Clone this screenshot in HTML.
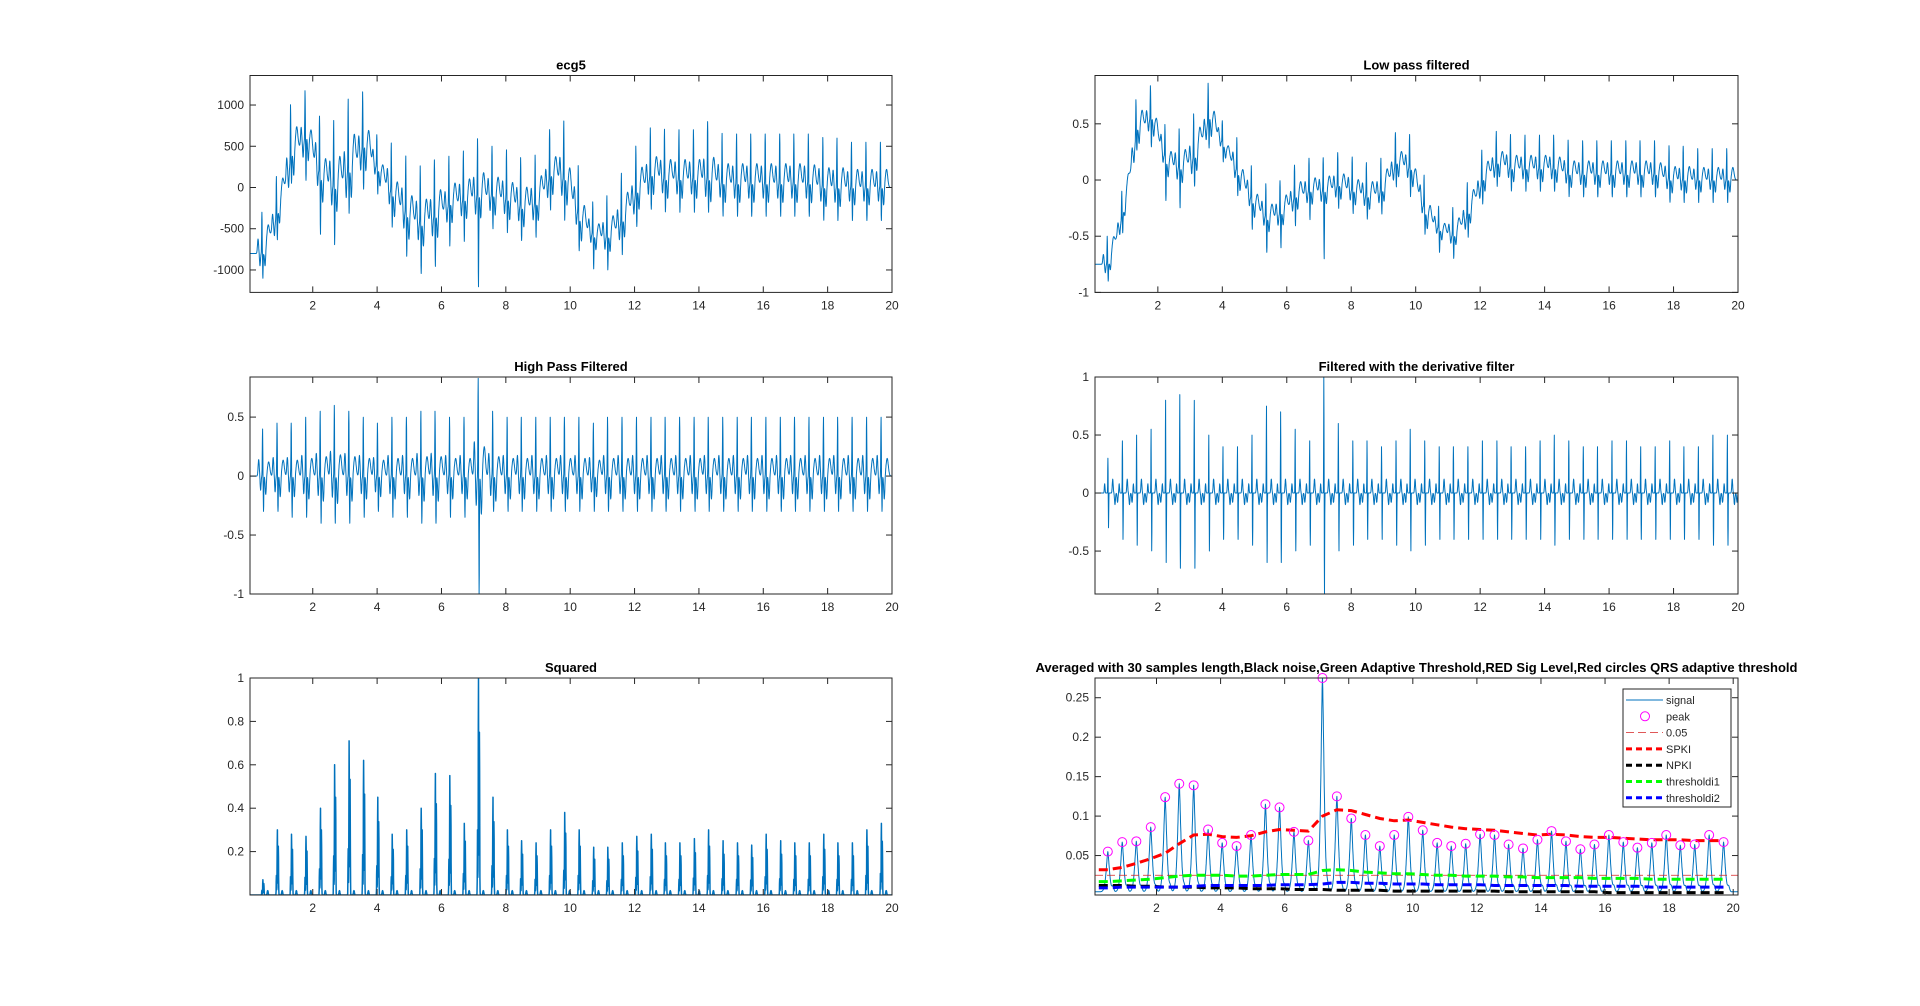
<!DOCTYPE html>
<html><head><meta charset="utf-8"><title>ECG processing</title>
<style>
html,body{margin:0;padding:0;background:#fff;}
svg{display:block;font-family:"Liberation Sans",Arial,sans-serif;}
.tick{font-size:12px;fill:#262626;}
.ttl{font-size:13px;font-weight:bold;fill:#000;}
</style></head>
<body>
<svg id="fig" width="1920" height="1006" viewBox="0 0 1920 1006"></svg>
<script>
// ---- data ----
const beatTimes=[0.48,0.93,1.37,1.82,2.27,2.71,3.16,3.61,4.05,4.50,4.95,5.40,5.84,6.29,6.74,7.18,7.63,8.08,8.52,8.97,9.42,9.86,10.31,10.76,11.20,11.65,12.10,12.55,12.99,13.44,13.89,14.33,14.78,15.23,15.67,16.12,16.57,17.01,17.46,17.91,18.35,18.80,19.25,19.70];
const ecgBase=[-800,-300,400,600,100,0,200,500,200,-100,-350,-450,-350,-200,-150,-100,-100,-150,-250,-200,150,100,-400,-600,-600,-400,-50,150,100,100,100,100,50,50,50,50,50,50,50,0,0,0,0,0];
const ecgR=[500,500,700,600,700,800,900,700,400,600,700,700,700,600,600,700,600,600,600,600,600,700,600,400,500,600,600,600,600,600,600,700,600,600,600,600,600,600,600,600,600,550,550,550];
const ecgS=[300,300,300,500,700,700,500,500,300,400,500,600,600,500,500,1100,400,400,400,400,400,500,400,400,400,400,400,400,400,400,400,400,400,400,400,400,400,400,400,400,400,400,400,400];
const lpBase=[-0.75,-0.3,0.45,0.55,0.15,0.1,0.2,0.55,0.3,0.05,-0.2,-0.35,-0.3,-0.15,-0.1,-0.1,-0.05,-0.1,-0.15,-0.1,0.15,0.1,-0.3,-0.45,-0.5,-0.3,0,0.15,0.1,0.1,0.1,0.1,0.05,0.05,0.05,0.05,0.05,0.05,0.05,0,0,0,0,0];
const lpR=[0.25,0.25,0.35,0.3,0.3,0.35,0.4,0.35,0.2,0.3,0.3,0.3,0.3,0.3,0.3,0.3,0.3,0.3,0.3,0.3,0.3,0.3,0.3,0.2,0.25,0.3,0.3,0.3,0.3,0.3,0.3,0.3,0.3,0.3,0.3,0.3,0.3,0.3,0.3,0.3,0.3,0.28,0.28,0.28];
const lpS=[0.15,0.15,0.15,0.25,0.35,0.35,0.25,0.25,0.15,0.2,0.25,0.3,0.3,0.25,0.25,0.6,0.2,0.2,0.2,0.2,0.2,0.25,0.2,0.2,0.2,0.2,0.2,0.2,0.2,0.2,0.2,0.2,0.2,0.2,0.2,0.2,0.2,0.2,0.2,0.2,0.2,0.2,0.2,0.2];
const hpR=[0.4,0.45,0.45,0.5,0.55,0.6,0.55,0.5,0.45,0.5,0.5,0.55,0.55,0.5,0.5,0.83,0.55,0.5,0.5,0.5,0.5,0.5,0.5,0.45,0.5,0.5,0.5,0.5,0.5,0.5,0.5,0.5,0.5,0.5,0.5,0.5,0.5,0.5,0.5,0.5,0.5,0.5,0.5,0.5];
const hpS=[0.3,0.3,0.35,0.35,0.4,0.4,0.4,0.35,0.3,0.35,0.35,0.4,0.4,0.35,0.35,1.0,0.3,0.3,0.3,0.3,0.3,0.3,0.3,0.3,0.3,0.3,0.3,0.3,0.3,0.3,0.3,0.3,0.3,0.3,0.3,0.3,0.3,0.3,0.3,0.3,0.3,0.3,0.3,0.3];
const dfR=[0.3,0.45,0.5,0.55,0.8,0.85,0.8,0.5,0.4,0.4,0.5,0.75,0.7,0.55,0.45,1.0,0.6,0.45,0.45,0.4,0.45,0.55,0.45,0.4,0.4,0.4,0.45,0.45,0.4,0.4,0.45,0.5,0.45,0.4,0.4,0.45,0.45,0.4,0.4,0.45,0.4,0.4,0.5,0.5];
const dfS=[0.3,0.4,0.45,0.5,0.6,0.65,0.65,0.5,0.4,0.4,0.45,0.6,0.6,0.5,0.45,0.87,0.5,0.45,0.4,0.4,0.45,0.5,0.45,0.4,0.4,0.4,0.4,0.4,0.4,0.4,0.4,0.45,0.4,0.4,0.4,0.4,0.4,0.4,0.4,0.4,0.4,0.4,0.45,0.45];
const sqPeak=[0.07,0.3,0.28,0.27,0.4,0.6,0.71,0.62,0.45,0.28,0.3,0.4,0.56,0.55,0.33,1.0,0.45,0.3,0.25,0.24,0.3,0.38,0.3,0.22,0.22,0.24,0.27,0.28,0.24,0.24,0.26,0.3,0.25,0.24,0.23,0.28,0.25,0.24,0.24,0.28,0.24,0.24,0.3,0.33];
const avgPeak=[0.055,0.067,0.068,0.086,0.124,0.141,0.139,0.083,0.066,0.062,0.076,0.115,0.111,0.080,0.069,0.275,0.125,0.097,0.076,0.062,0.076,0.099,0.082,0.066,0.062,0.065,0.077,0.076,0.064,0.059,0.070,0.081,0.068,0.058,0.064,0.076,0.067,0.060,0.066,0.076,0.063,0.064,0.076,0.067];
const spki=[0.032,0.035,0.040,0.046,0.053,0.065,0.076,0.077,0.074,0.073,0.075,0.080,0.083,0.082,0.081,0.100,0.108,0.107,0.102,0.097,0.094,0.095,0.092,0.089,0.086,0.084,0.083,0.082,0.080,0.078,0.076,0.077,0.076,0.074,0.073,0.073,0.072,0.071,0.070,0.070,0.070,0.069,0.069,0.069];
const npki=[0.012,0.012,0.011,0.011,0.010,0.010,0.010,0.009,0.009,0.009,0.008,0.008,0.008,0.007,0.007,0.007,0.006,0.006,0.006,0.006,0.005,0.005,0.005,0.005,0.005,0.005,0.005,0.005,0.004,0.004,0.004,0.004,0.004,0.004,0.004,0.003,0.003,0.003,0.003,0.003,0.003,0.003,0.003,0.003];
const thr1=[0.017,0.018,0.019,0.020,0.022,0.024,0.025,0.025,0.025,0.024,0.024,0.025,0.026,0.026,0.026,0.031,0.032,0.031,0.029,0.028,0.027,0.027,0.026,0.025,0.025,0.024,0.024,0.024,0.023,0.023,0.022,0.022,0.022,0.022,0.021,0.021,0.021,0.021,0.020,0.020,0.020,0.020,0.020,0.020];
const thr2=[0.009,0.010,0.010,0.010,0.010,0.010,0.011,0.012,0.012,0.012,0.012,0.012,0.013,0.013,0.013,0.014,0.016,0.016,0.015,0.015,0.014,0.014,0.014,0.013,0.013,0.013,0.013,0.012,0.012,0.012,0.012,0.012,0.012,0.011,0.011,0.011,0.011,0.011,0.010,0.010,0.010,0.010,0.010,0.010];
const fixedLevel=0.025;
const xTicks=[2,4,6,8,10,12,14,16,18,20];
const ecgYTicks=[-1000,-500,0,500,1000];
const lpYTicks=[-1,-0.5,0,0.5];
const hpYTicks=[-1,-0.5,0,0.5];
const dfYTicks=[-0.5,0,0.5,1];
const sqYTicks=[0.2,0.4,0.6,0.8,1];
const avYTicks=[0.05,0.1,0.15,0.2,0.25];
const legendLabels=['signal','peak','0.05','SPKI','NPKI','thresholdi1','thresholdi2'];

const NS='http://www.w3.org/2000/svg';
const fig=document.getElementById('fig');
const BLUE='#0072BD';
function mk(tag,attrs,parent){const e=document.createElementNS(NS,tag);for(const k in attrs)e.setAttribute(k,attrs[k]);(parent||fig).appendChild(e);return e;}

function makeAxes(name,x0,y0,x1,y1,xmin,xmax,ymin,ymax,yt,title){
  const g=mk('g',{});
  
  
  const sx=v=>x0+(v-xmin)/(xmax-xmin)*(x1-x0);
  const sy=v=>y1-(v-ymin)/(ymax-ymin)*(y1-y0);
  const clipId='c'+name;
  const cp=mk('clipPath',{id:clipId},g);mk('rect',{x:x0,y:y0,width:x1-x0,height:y1-y0},cp);
  const plot=mk('g',{'clip-path':'url(#'+clipId+')'},g);
  
  
  const ax={g,plot,sx,sy,x0,x1,y0,y1};
  ax.finish=function(){
    const fr=mk('rect',{x:x0,y:y0,width:x1-x0,height:y1-y0,fill:'none',stroke:'#262626','stroke-width':1},g);
    
    
    xTicks.forEach(v=>{const X=sx(v);if(X<x0-0.5||X>x1+0.5)return;
      mk('line',{x1:X,x2:X,y1:y1,y2:y1-6,stroke:'#262626'},g);
      mk('line',{x1:X,x2:X,y1:y0,y2:y0+6,stroke:'#262626'},g);
      const t=mk('text',{x:X,y:y1+17,'text-anchor':'middle',class:'tick'},g);t.textContent=v;
      
      });
    yt.forEach(v=>{const Y=sy(v);
      mk('line',{x1:x0,x2:x0+6,y1:Y,y2:Y,stroke:'#262626'},g);
      mk('line',{x1:x1,x2:x1-6,y1:Y,y2:Y,stroke:'#262626'},g);
      const t=mk('text',{x:x0-6,y:Y+4,'text-anchor':'end',class:'tick'},g);t.textContent=v;
      
      });
    const tt=mk('text',{x:(x0+x1)/2,y:y0-6,'text-anchor':'middle',class:'ttl'},g);tt.textContent=title;
    
    
  };
  return ax;
}
function gauss(d,w){return Math.exp(-(d*d)/(w*w));}
function interpBase(arr,t){
  if(t<=beatTimes[0])return arr[0];
  for(let i=0;i<beatTimes.length-1;i++){if(t<beatTimes[i+1]){const f=(t-beatTimes[i])/(beatTimes[i+1]-beatTimes[i]);return arr[i]+(arr[i+1]-arr[i])*f;}}
  return arr[arr.length-1];
}
function ecgLike(t,base,R,S,shift,tFactor){
  let v=base?interpBase(base,t):0;
  for(let i=0;i<beatTimes.length;i++){const d=t-(beatTimes[i]-shift);if(d<-0.3||d>0.5)continue;
    v+=R[i]*gauss(d,0.011)-S[i]*gauss(d-0.03,0.012)+tFactor*R[i]*gauss(d-0.19,0.05)-0.4*R[i]*gauss(d-0.1,0.025)+0.35*R[i]*gauss(d+0.12,0.025)-0.3*R[i]*gauss(d+0.06,0.02);}
  return v;
}
function drawLine(ax,fn,name,w){
  let d='';const step=0.005;
  for(let t=0;t<=20.2;t+=step){const X=ax.sx(t),Y=ax.sy(fn(t));d+=(d?'L':'M')+X.toFixed(1)+' '+Y.toFixed(1);}
  const p=mk('path',{d,fill:'none',stroke:BLUE,'stroke-width':w||1,'stroke-linejoin':'round'},ax.plot);
  
  
  return p;
}
const L=[250,892],R=[1095,1738];
const rows=[[75.5,292.4],[377,594],[678,895]];

const a1=makeAxes('ecg5-axes',L[0],rows[0][0],L[1],rows[0][1],0.05,20,-1272,1358,ecgYTicks,'ecg5');
drawLine(a1,t=>ecgLike(t,ecgBase,ecgR,ecgS,0.06,0.4),'ecg5-signal');a1.finish();
const a2=makeAxes('lowpass-axes',R[0],rows[0][0],R[1],rows[0][1],0.05,20,-1,0.93,lpYTicks,'Low pass filtered');
drawLine(a2,t=>ecgLike(t,lpBase,lpR,lpS,0.05,0.4),'lowpass-signal');a2.finish();
const a3=makeAxes('highpass-axes',L[0],rows[1][0],L[1],rows[1][1],0.05,20,-1,0.84,hpYTicks,'High Pass Filtered');
drawLine(a3,t=>ecgLike(t,null,hpR,hpS,0.04,0.3),'highpass-signal');a3.finish();
const a4=makeAxes('derivative-axes',R[0],rows[1][0],R[1],rows[1][1],0.05,20,-0.87,1,dfYTicks,'Filtered with the derivative filter');
drawLine(a4,t=>{let v=0;for(let i=0;i<beatTimes.length;i++){const d=t-(beatTimes[i]-0.03);if(d<-0.3||d>0.5)continue;
  v+=dfR[i]*gauss(d,0.008)-dfS[i]*gauss(d-0.02,0.008)+0.12*gauss(d-0.15,0.02)-0.1*gauss(d-0.22,0.02)+0.08*gauss(d+0.1,0.015)-0.08*gauss(d-0.3,0.02);}
  return v;},'derivative-signal');a4.finish();
const a5=makeAxes('squared-axes',L[0],rows[2][0],L[1],rows[2][1],0.05,20,0,1,sqYTicks,'Squared');
drawLine(a5,t=>{let v=0;for(let i=0;i<beatTimes.length;i++){const d=t-(beatTimes[i]-0.03);if(d<-0.2||d>0.3)continue;
  v+=sqPeak[i]*gauss(d,0.01)+0.75*sqPeak[i]*gauss(d-0.03,0.01)+0.3*sqPeak[i]*gauss(d+0.03,0.008)+0.02*gauss(d-0.15,0.02);}
  return v;},'squared-signal',1.5);a5.finish();
const a6=makeAxes('averaged-axes',R[0],rows[2][0],R[1],rows[2][1],0.08,20.15,0,0.275,avYTicks,'Averaged with 30 samples length,Black noise,Green Adaptive Threshold,RED Sig Level,Red circles QRS adaptive threshold');
drawLine(a6,t=>{let v=0.004;for(let i=0;i<beatTimes.length;i++){const d=t-beatTimes[i];if(d<-0.25||d>0.3)continue;
  v+=(avgPeak[i]-0.004)*Math.exp(-Math.pow(Math.abs(d)/0.07,1.5))+0.006*gauss(d-0.16,0.04);}
  return v;},'averaged-signal');
function levelLine(arr,color,name){
  let d='M'+a6.sx(0.2).toFixed(1)+' '+a6.sy(arr[0]).toFixed(1);
  beatTimes.forEach((t,i)=>{d+='L'+a6.sx(t).toFixed(1)+' '+a6.sy(arr[i]).toFixed(1);});
  const p=mk('path',{d,fill:'none',stroke:color,'stroke-width':3,'stroke-dasharray':'9 5'},a6.plot);
  
  
}
const fl=mk('line',{x1:a6.x0,x2:a6.x1,y1:a6.sy(fixedLevel),y2:a6.sy(fixedLevel),stroke:'#d62020','stroke-width':0.8,'stroke-dasharray':'8 4'},a6.plot);


levelLine(npki,'#000','npki-line');
levelLine(thr2,'#0000ff','threshold2-line');
levelLine(thr1,'#00ff00','threshold1-line');
levelLine(spki,'#ff0000','spki-line');
beatTimes.forEach((t,i)=>{const c=mk('circle',{cx:a6.sx(t),cy:a6.sy(avgPeak[i]),r:4.5,fill:'none',stroke:'#ff00ff','stroke-width':1},a6.g);
  
  });
a6.finish();
const lg=mk('g',{});


const lx=1623,ly=689,lw=108,lh=118;
mk('rect',{x:lx,y:ly,width:lw,height:lh,fill:'#fff',stroke:'#262626','stroke-width':1},lg);
const sty=[['line',BLUE,1,''],['circle','#ff00ff',1,''],['line','#d62020',0.8,'8 4'],['line','#ff0000',3,'6 4'],['line','#000',3,'6 4'],['line','#00ff00',3,'6 4'],['line','#0000ff',3,'6 4']];
legendLabels.forEach((lab,i)=>{const y=ly+11+i*16.3;
  const e=mk('g',{},lg);
  
  
  const s=sty[i];
  if(s[0]==='circle')mk('circle',{cx:lx+22,cy:y,r:4.5,fill:'none',stroke:s[1]},e);
  else mk('line',{x1:lx+3,x2:lx+40,y1:y,y2:y,stroke:s[1],'stroke-width':s[2],'stroke-dasharray':s[3]},e);
  const t=mk('text',{x:lx+43,y:y+4,class:'tick'},e);t.style.fontSize='11px';t.textContent=lab;});
</script>
</body></html>
